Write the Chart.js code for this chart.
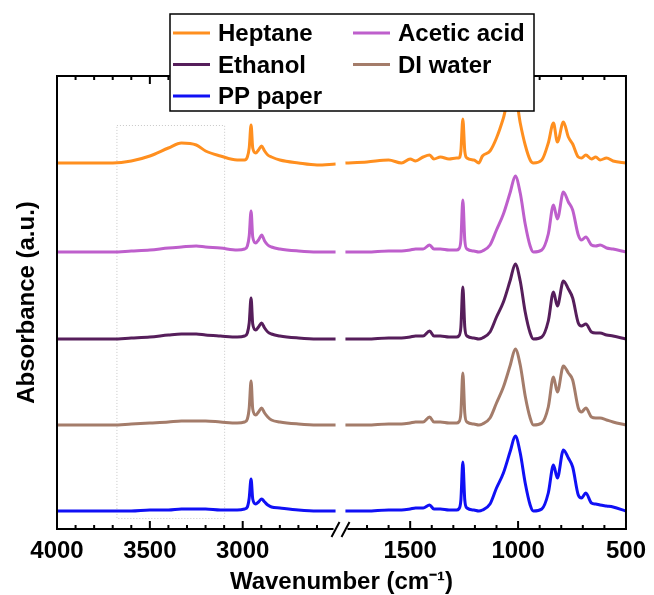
<!DOCTYPE html>
<html>
<head>
<meta charset="utf-8">
<script src="https://cdn.jsdelivr.net/npm/chart.js@4.4.1/dist/chart.umd.min.js"></script>
<style>
  html, body { margin: 0; padding: 0; background: #fff; }
</style>
</head>
<body>
<canvas id="ftir" width="654" height="595"></canvas>
<script>
// FTIR spectra, stacked with an offset, x axis broken between 2500 and 1800 cm-1

const seriesLabels = ['Heptane', 'Acetic acid', 'Ethanol', 'DI water', 'PP paper'];
const seriesColors = ['#ff8f1f', '#be5fcc', '#561e5b', '#a47c6a', '#1010f5'];
const offsets = [3.48, 2.59, 1.72, 0.86, 0];

const majorTicks = [4000, 3500, 3000, 1500, 1000, 500];
const tickLabels = ['4000', '3500', '3000', '1500', '1000', '500'];

const leftWavenumbers = [4000, 3800, 3700, 3600, 3500, 3400, 3330, 3250, 3200, 3120, 3030, 2990, 2975,
  2965, 2955, 2946, 2930, 2915, 2898, 2882, 2865, 2845, 2800, 2700, 2600, 2500];
const rightWavenumbers = [1800, 1700, 1600, 1540, 1500, 1475, 1440, 1410, 1390, 1360, 1320, 1285, 1275,
  1265, 1256, 1247, 1237, 1205, 1182, 1165, 1130, 1100, 1068, 1036, 1013, 990, 967, 944, 929, 890, 860,
  836, 818, 790, 767, 747, 721, 706, 686, 660, 640, 620, 590, 560, 500];

const heptaneLeft = [0, 0, 0, 0.02, 0.07, 0.15, 0.20, 0.18, 0.12, 0.07, 0.03, 0.03, 0.06,
  0.15, 0.38, 0.15, 0.10, 0.13, 0.17, 0.12, 0.08, 0.06, 0.03, 0.00, -0.02, -0.01];
const aceticLeft = [0, 0, 0, 0.01, 0.02, 0.04, 0.05, 0.06, 0.05, 0.04, 0.02, 0.03, 0.06,
  0.16, 0.41, 0.15, 0.09, 0.12, 0.17, 0.11, 0.07, 0.05, 0.03, 0.01, 0, 0];
const ethanolLeft = [0, 0, 0, 0.01, 0.02, 0.04, 0.05, 0.05, 0.04, 0.03, 0.02, 0.03, 0.06,
  0.16, 0.41, 0.15, 0.09, 0.12, 0.16, 0.11, 0.07, 0.05, 0.03, 0.01, 0, 0];
const waterLeft = [0, 0, 0, 0.01, 0.02, 0.03, 0.04, 0.04, 0.04, 0.03, 0.02, 0.03, 0.06,
  0.17, 0.44, 0.16, 0.10, 0.13, 0.17, 0.12, 0.08, 0.05, 0.03, 0.01, 0, 0];
const ppLeft = [0, 0, 0, 0, 0.01, 0.01, 0.02, 0.02, 0.02, 0.01, 0.01, 0.02, 0.04,
  0.13, 0.32, 0.12, 0.07, 0.09, 0.12, 0.09, 0.06, 0.04, 0.03, 0.01, 0, 0];

const heptaneRight = [0, 0.01, 0.03, 0, 0.04, 0.02, 0.06, 0.08, 0.04, 0.06, 0.04, 0.05, 0.05,
  0.12, 0.44, 0.12, 0.05, 0.03, 0, 0.07, 0.12, 0.25, 0.45, 0.70, 0.68, 0.40, 0.18, 0.03, 0, 0.03, 0.20,
  0.40, 0.21, 0.41, 0.26, 0.19, 0.06, 0.05, 0.08, 0.04, 0.06, 0.03, 0.05, 0.02, 0];
const aceticRight = [0, 0, 0.01, 0.01, 0.02, 0.03, 0.03, 0.07, 0.03, 0.03, 0.02, 0.02, 0.03,
  0.12, 0.52, 0.12, 0.03, 0.01, 0, 0.01, 0.07, 0.22, 0.38, 0.60, 0.76, 0.59, 0.28, 0.06, 0, 0.02, 0.18,
  0.47, 0.33, 0.60, 0.50, 0.42, 0.17, 0.12, 0.15, 0.07, 0.06, 0.07, 0.04, 0.03, 0];
const ethanolRight = [0, 0, 0.01, 0.01, 0.02, 0.03, 0.03, 0.08, 0.03, 0.03, 0.02, 0.02, 0.03,
  0.12, 0.52, 0.12, 0.03, 0.01, 0, 0.01, 0.07, 0.22, 0.37, 0.59, 0.75, 0.58, 0.27, 0.06, 0, 0.02, 0.18,
  0.47, 0.33, 0.58, 0.50, 0.41, 0.16, 0.13, 0.15, 0.07, 0.06, 0.06, 0.04, 0.03, 0];
const waterRight = [0, 0, 0.01, 0.01, 0.02, 0.03, 0.03, 0.08, 0.03, 0.03, 0.02, 0.02, 0.03,
  0.12, 0.52, 0.12, 0.03, 0.01, 0, 0.01, 0.07, 0.22, 0.38, 0.60, 0.76, 0.60, 0.29, 0.07, 0, 0.02, 0.18,
  0.48, 0.33, 0.59, 0.52, 0.45, 0.17, 0.13, 0.17, 0.08, 0.07, 0.07, 0.05, 0.03, 0];
const ppRight = [0, 0, 0.01, 0.01, 0.02, 0.03, 0.03, 0.06, 0.02, 0.02, 0.01, 0.01, 0.02,
  0.11, 0.49, 0.11, 0.03, 0.01, 0, 0.01, 0.07, 0.23, 0.38, 0.60, 0.75, 0.58, 0.28, 0.06, 0, 0.02, 0.18,
  0.46, 0.33, 0.61, 0.53, 0.44, 0.16, 0.13, 0.18, 0.08, 0.07, 0.06, 0.05, 0.04, 0];

const leftSeries = [heptaneLeft, aceticLeft, ethanolLeft, waterLeft, ppLeft];
const rightSeries = [heptaneRight, aceticRight, ethanolRight, waterRight, ppRight];

// dotted box around the O-H region
const highlightBand = [3680, 3100];
const highlightLevels = [-0.07, 3.86];

const FONT = "'Liberation Sans', Arial, sans-serif";

// 4000-2500 and 1800-500 put side by side on one linear scale (0..576)
function axisPos(w) {
  return w >= 2500 ? (4000 - w) * 282 / 1500 : 292 + (1800 - w) * 284 / 1300;
}
const gapPos = (axisPos(2500) + axisPos(1800)) / 2;

function buildSeries(left, right, off) {
  const pts = leftWavenumbers.map((w, i) => ({ x: axisPos(w), y: left[i] + off }));
  pts.push({ x: gapPos, y: null });
  rightWavenumbers.forEach((w, i) => pts.push({ x: axisPos(w), y: right[i] + off }));
  return pts;
}

const minorTicks = [];
for (let w = 3900; w > 2500; w -= 100) minorTicks.push(w);
for (let w = 1700; w > 500; w -= 100) minorTicks.push(w);

const framePlugin = {
  id: 'frame',
  beforeDatasetsDraw(chart) {
    const { ctx, scales: { x, y } } = chart;
    const x0 = x.getPixelForValue(axisPos(highlightBand[0]));
    const x1 = x.getPixelForValue(axisPos(highlightBand[1]));
    const y0 = y.getPixelForValue(highlightLevels[1]);
    const y1 = y.getPixelForValue(highlightLevels[0]);
    ctx.save();
    ctx.strokeStyle = '#c8c8c8';
    ctx.lineWidth = 1;
    ctx.setLineDash([1, 2]);
    ctx.strokeRect(x0 + 0.5, y0 + 0.5, x1 - x0, y1 - y0);
    ctx.restore();
  },
  afterDatasetsDraw(chart) {
    const { ctx, chartArea: a, scales: { x } } = chart;
    const gx = x.getPixelForValue(gapPos);
    ctx.save();
    ctx.strokeStyle = '#000';
    ctx.lineWidth = 2;
    ctx.beginPath();
    ctx.moveTo(a.left, a.top); ctx.lineTo(a.right, a.top);
    ctx.moveTo(a.left, a.top - 1); ctx.lineTo(a.left, a.bottom + 1);
    ctx.moveTo(a.right, a.top - 1); ctx.lineTo(a.right, a.bottom + 1);
    ctx.moveTo(a.left, a.bottom); ctx.lineTo(gx - 7, a.bottom);
    ctx.moveTo(gx + 7, a.bottom); ctx.lineTo(a.right, a.bottom);
    // ticks point inwards, top and bottom
    const tick = (w, len) => {
      const px = x.getPixelForValue(axisPos(w));
      ctx.moveTo(px, a.bottom); ctx.lineTo(px, a.bottom - len);
      ctx.moveTo(px, a.top); ctx.lineTo(px, a.top + len);
    };
    majorTicks.forEach(w => tick(w, 8));
    minorTicks.forEach(w => tick(w, 4));
    // break marks
    [-5, 5].forEach(d => {
      ctx.moveTo(gx + d - 4, a.bottom + 8);
      ctx.lineTo(gx + d + 4, a.bottom - 7);
    });
    ctx.stroke();
    ctx.restore();
  }
};

const boxLegend = {
  id: 'boxLegend',
  afterDraw(chart) {
    const ctx = chart.ctx;
    ctx.save();
    ctx.fillStyle = '#fff';
    ctx.fillRect(170, 14, 364, 97);
    ctx.strokeStyle = '#000';
    ctx.lineWidth = 1.5;
    ctx.strokeRect(170, 14, 364, 97);
    ctx.font = 'bold 24px ' + FONT;
    ctx.textBaseline = 'alphabetic';
    chart.data.datasets.forEach((ds, i) => {
      const col = i % 2, row = Math.floor(i / 2);
      const lx = col ? 353 : 173;
      const cy = 33 + row * 31.5;
      ctx.strokeStyle = ds.borderColor;
      ctx.lineWidth = 3;
      ctx.beginPath();
      ctx.moveTo(lx, cy); ctx.lineTo(lx + 37, cy);
      ctx.stroke();
      ctx.fillStyle = '#000';
      ctx.fillText(ds.label, lx + 45, cy + 8);
    });
    ctx.restore();
  }
};

new Chart(document.getElementById('ftir'), {
  type: 'line',
  data: {
    datasets: seriesLabels.map((label, i) => ({
      label,
      data: buildSeries(leftSeries[i], rightSeries[i], offsets[i]),
      borderColor: seriesColors[i],
      borderWidth: 3,
      pointRadius: 0,
      fill: false,
      cubicInterpolationMode: 'monotone'
    }))
  },
  options: {
    responsive: false,
    animation: false,
    layout: { padding: { top: 76, right: 21, bottom: 0, left: 0 } },
    plugins: {
      legend: { display: false },
      tooltip: { enabled: false }
    },
    scales: {
      x: {
        type: 'linear',
        min: 0,
        max: 576,
        grid: { display: false, drawTicks: false },
        border: { display: false },
        afterBuildTicks: s => { s.ticks = majorTicks.map(w => ({ value: axisPos(w) })); },
        afterFit: s => { s.height = 66; },
        ticks: {
          autoSkip: false,
          maxRotation: 0,
          padding: 8,
          color: '#000',
          font: { family: FONT, size: 24, weight: 'bold' },
          callback: (v, i) => tickLabels[i]
        },
        title: {
          display: true,
          text: 'Wavenumber (cm\u207B\u00B9)',
          color: '#000',
          font: { family: FONT, size: 24, weight: 'bold' },
          padding: { top: 0, bottom: -2 }
        }
      },
      y: {
        min: -0.18,
        max: 4.35,
        grid: { display: false, drawTicks: false },
        border: { display: false },
        ticks: { display: false },
        afterFit: s => { s.width = 57; },
        title: {
          display: true,
          text: 'Absorbance (a.u.)',
          color: '#000',
          font: { family: FONT, size: 24, weight: 'bold' },
          padding: { top: 12.6, bottom: 0 }
        }
      }
    }
  },
  plugins: [framePlugin, boxLegend]
});
</script>
</body>
</html>
